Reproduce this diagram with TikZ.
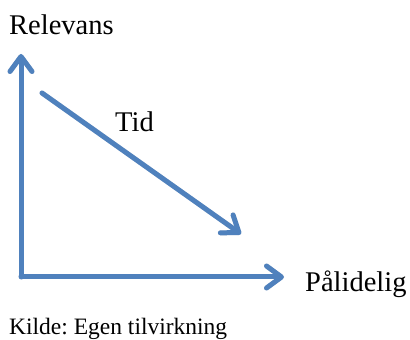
\documentclass[tikz,border=0pt]{standalone}
\usepackage{fontspec}
\setmainfont{Liberation Serif}
\usetikzlibrary{arrows.meta}
\definecolor{axisblue}{RGB}{79,129,189}
\frenchspacing
\tikzset{
  axis/.style={draw=axisblue, line width=5pt, line cap=round, line join=round,
    -{Straight Barb[length=15pt, width=22pt, line cap=round, line join=round]}},
  shade/.style={draw=black!40, opacity=0.25, line width=5pt, line cap=round, line join=round,
    -{Straight Barb[length=15pt, width=22pt, line cap=round, line join=round]}},
  lbl/.style={anchor=base west, inner sep=0pt, font=\fontsize{28.5}{30}\selectfont},
  src/.style={anchor=base west, inner sep=0pt, font=\fontsize{23.5}{25}\selectfont}
}
\begin{document}
\begin{tikzpicture}[x=1pt,y=1pt]
\useasboundingbox (0,0) rectangle (410,340);
\coordinate (o) at (21,63);
\coordinate (top) at (21,286);
\coordinate (right) at (284,63);
\coordinate (ds) at (42,247);
\coordinate (de) at (241,106);
\begin{scope}[shift={(1.5,-2)}]
\draw[shade] (o) -- (top);
\draw[shade] (o) -- (right);
\draw[shade] (ds) -- (de);
\end{scope}
\draw[axis] (o) -- (top);
\draw[axis] (o) -- (right);
\draw[axis] (ds) -- (de);
\node[lbl] (rel) at (9,305) {Relevans};
\node[lbl] (tid) at (115,208) {Tid};
\node[lbl] (pal) at (305,48) {Pålidelig};
\node[src] (kilde) at (9,5.5) {Kilde: Egen tilvirkning};
\end{tikzpicture}
\end{document}
